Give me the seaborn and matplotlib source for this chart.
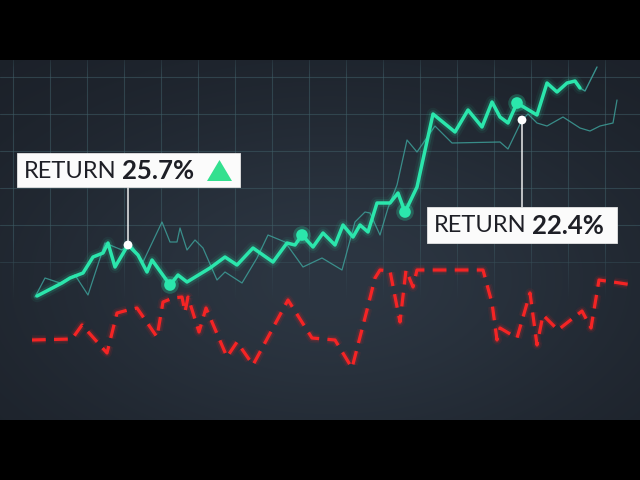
import numpy as np
import matplotlib
matplotlib.use("Agg")
import matplotlib.pyplot as plt
import seaborn as sns
from matplotlib.patches import Rectangle, Polygon

# --- data (day index, return level) ---
main_x = [3.7, 6.2, 7.0, 8.3, 9.3, 10.3, 10.8, 11.5, 12.8, 13.8, 14.7, 15.2, 17.0, 17.8, 18.7,
          21.0, 22.5, 23.7, 25.3, 27.3, 28.7, 29.5, 30.2, 31.3, 32.3, 33.5, 34.3, 35.3, 36.0,
          36.8, 37.7, 39.0, 39.8, 40.5, 41.7, 43.3, 45.5, 46.8, 48.2, 49.2, 50.0, 50.8, 51.7,
          53.7, 54.7, 55.7, 56.7, 57.5, 58.0]
main_y = [12.4, 13.7, 14.2, 14.7, 16.3, 16.7, 17.7, 15.3, 17.5, 16.5, 14.8, 16.0, 13.5, 14.5, 13.8,
          15.2, 16.3, 15.5, 17.2, 15.8, 17.7, 17.5, 18.5, 17.3, 18.7, 17.5, 19.5, 18.3, 19.5,
          18.8, 21.7, 21.7, 22.7, 20.8, 23.3, 30.6, 28.8, 31.0, 29.3, 31.8, 30.3, 29.7, 31.7,
          30.5, 33.7, 32.8, 33.7, 33.9, 33.2]
tail_x = [58.0, 58.5, 59.7]
tail_y = [33.2, 32.9, 35.3]

bench_x = [3.5, 4.5, 6.0, 7.5, 8.8, 10.5, 12.2, 13.0, 14.3, 16.2, 17.0, 17.7, 18.0, 18.7, 19.5,
           20.3, 21.7, 22.5, 24.2, 25.7, 26.8, 28.5, 30.3, 32.2, 34.2, 35.5, 36.5, 37.0, 38.0,
           38.8, 39.7, 40.7, 41.7, 43.5, 45.2, 50.0, 50.8, 52.2, 52.8, 53.7, 54.7, 56.3, 58.0,
           59.0, 60.0, 61.3, 61.7]
bench_y = [12.3, 14.2, 13.7, 14.5, 12.5, 17.7, 17.0, 17.7, 15.8, 19.8, 17.8, 17.8, 19.2, 17.0, 18.0,
           17.2, 14.0, 14.8, 13.7, 16.2, 18.5, 17.8, 15.3, 16.2, 15.0, 19.8, 20.8, 20.7, 18.5,
           21.2, 23.5, 28.0, 26.8, 29.4, 27.7, 27.8, 27.1, 30.0, 30.6, 29.7, 29.4, 30.3, 29.2,
           28.9, 29.4, 29.7, 32.0]

loss_x = [3.2, 7.2, 8.2, 10.7, 11.7, 12.8, 13.7, 15.7, 16.3, 17.3, 18.2, 18.5, 18.8, 19.9, 20.6,
          22.7, 23.7, 25.3, 28.8, 31.2, 33.5, 35.2, 36.7, 37.5, 38.0, 39.0, 40.0, 40.6, 41.3,
          41.7, 48.3, 49.2, 49.7, 50.0, 51.7, 53.0, 53.7, 54.3, 55.8, 58.2, 59.1, 59.9, 61.3, 63.3]
loss_y = [8.0, 8.1, 9.5, 6.7, 10.7, 11.0, 11.2, 8.3, 11.8, 12.2, 12.3, 10.8, 12.3, 8.8, 11.2,
          6.3, 7.8, 5.5, 12.0, 8.2, 8.0, 5.2, 11.0, 14.2, 15.0, 14.9, 9.8, 15.0, 13.3,
          15.0, 15.0, 11.7, 8.0, 9.2, 8.2, 12.7, 7.5, 10.5, 9.0, 10.9, 9.2, 14.0, 13.8, 13.5]

dots_x = [17.0, 30.2, 40.5, 51.7]
dots_y = [13.5, 18.5, 20.8, 31.7]

ret1_label, ret1_value = "RETURN", "25.7%"
ret2_label, ret2_value = "RETURN", "22.4%"
ret1_pt = (12.8, 17.5)
ret2_pt = (52.2, 30.0)

GREEN = "#2be6ac"
TEAL = "#3d9e98"
RED = "#ff2424"

sns.set_theme(style="dark")
plt.rcParams["font.family"] = ["Lato", "DejaVu Sans"]

fig = plt.figure(figsize=(6.4, 4.8), dpi=100, facecolor="black")
ax = fig.add_axes([0, 60 / 480, 1, 360 / 480])
ax.set_xlim(0, 64)
ax.set_ylim(0, 36)
ax.set_axis_off()

# background gradient
H, W = 360, 640
yy, xx = np.mgrid[0:H, 0:W]
w = np.exp(-((xx - 330) / 330.0) ** 2 - ((yy - 220) / 190.0) ** 2)
dark = np.array([0x1a, 0x1f, 0x27]) / 255
light = np.array([0x2c, 0x36, 0x42]) / 255
bg = dark + (light - dark) * w[..., None]
ax.imshow(bg, extent=(0, 64, 0, 36), aspect="auto", origin="upper", zorder=0)

# grid
for gx in np.arange(1.3, 64, 3.7):
    ax.axvline(gx, color="#3f5d66", lw=0.8, alpha=0.55, zorder=0.5)
for gy in np.arange(34.3, 0, -3.7):
    ax.axhline(gy, color="#3f5d66", lw=0.8, alpha=0.55, zorder=0.5)

# fade the grid out towards the bottom
fade = np.clip((yy - 180) / 60.0, 0, 1)
top_fade = np.clip((14 - yy) / 14.0, 0, 1) * 0.5
over = np.dstack([bg, np.maximum(fade, top_fade)])
ax.imshow(over, extent=(0, 64, 0, 36), aspect="auto", origin="upper", zorder=0.8)

# benchmark (thin)
sns.lineplot(x=bench_x, y=bench_y, ax=ax, color=TEAL, lw=0.9, alpha=0.85,
             sort=False, estimator=None, zorder=2)
sns.lineplot(x=tail_x, y=tail_y, ax=ax, color=TEAL, lw=1.0, alpha=0.9,
             sort=False, estimator=None, zorder=2)

# loss series (red dashed with glow)
for lw, a in [(7, 0.08), (4.5, 0.15)]:
    sns.lineplot(x=loss_x, y=loss_y, ax=ax, color=RED, lw=lw, alpha=a,
                 linestyle=(0, (4.3 * 2.3 / lw, 2.6 * 2.3 / lw)), sort=False, estimator=None, zorder=2)
sns.lineplot(x=loss_x, y=loss_y, ax=ax, color=RED, lw=2.3, alpha=0.95,
             linestyle=(0, (4.3, 2.6)), sort=False, estimator=None, zorder=3)

# main series (green with glow)
for lw, a in [(9, 0.06), (5.5, 0.14)]:
    sns.lineplot(x=main_x, y=main_y, ax=ax, color=GREEN, lw=lw, alpha=a,
                 sort=False, estimator=None, zorder=3)
sns.lineplot(x=main_x, y=main_y, ax=ax, color=GREEN, lw=2.5,
             sort=False, estimator=None, zorder=4)
sns.scatterplot(x=dots_x, y=dots_y, ax=ax, color=GREEN, s=160, alpha=0.25,
                edgecolor="none", zorder=4)
sns.scatterplot(x=dots_x, y=dots_y, ax=ax, color=GREEN, s=70,
                edgecolor="none", zorder=5)
sns.scatterplot(x=[ret1_pt[0], ret2_pt[0]], y=[ret1_pt[1], ret2_pt[1]], ax=ax,
                color="white", s=40, edgecolor="none", zorder=6)

# connectors
ax.annotate("", xy=ret1_pt, xytext=(128, 480 - 187), textcoords="figure pixels",
            arrowprops=dict(arrowstyle="-", color="white", lw=1.0, shrinkA=0, shrinkB=0), zorder=5)
ax.annotate("", xy=ret2_pt, xytext=(522, 480 - 207), textcoords="figure pixels",
            arrowprops=dict(arrowstyle="-", color="white", lw=1.0, shrinkA=0, shrinkB=0), zorder=5)


def px(x, y):
    return x / 640, 1 - y / 480


# label boxes
for (x0, y0, x1, y1) in [(17, 153, 240, 187), (427, 207, 617, 243)]:
    fig.add_artist(Rectangle(px(x0, y1), (x1 - x0) / 640, (y1 - y0) / 480,
                             transform=fig.transFigure, facecolor="#fbfbfb",
                             edgecolor="#e4e4e4", lw=0.6, zorder=10))

fig.text(*px(24, 171), ret1_label, fontsize=17, color="#1e1f26", va="center", ha="left", zorder=11)
fig.text(*px(122, 171), ret1_value, fontsize=18.5, color="#1e1f26", fontweight="bold",
         va="center", ha="left", zorder=11)
tri = Polygon([px(207, 181), px(232, 181), px(219.5, 160)], closed=True,
              transform=fig.transFigure, facecolor="#33e08f", edgecolor="none", zorder=11)
fig.add_artist(tri)

fig.text(*px(434, 226), ret2_label, fontsize=17, color="#1e1f26", va="center", ha="left", zorder=11)
fig.text(*px(532, 226), ret2_value, fontsize=18.5, color="#1e1f26", fontweight="bold",
         va="center", ha="left", zorder=11)

fig.savefig("out.png", dpi=100, facecolor="black")
